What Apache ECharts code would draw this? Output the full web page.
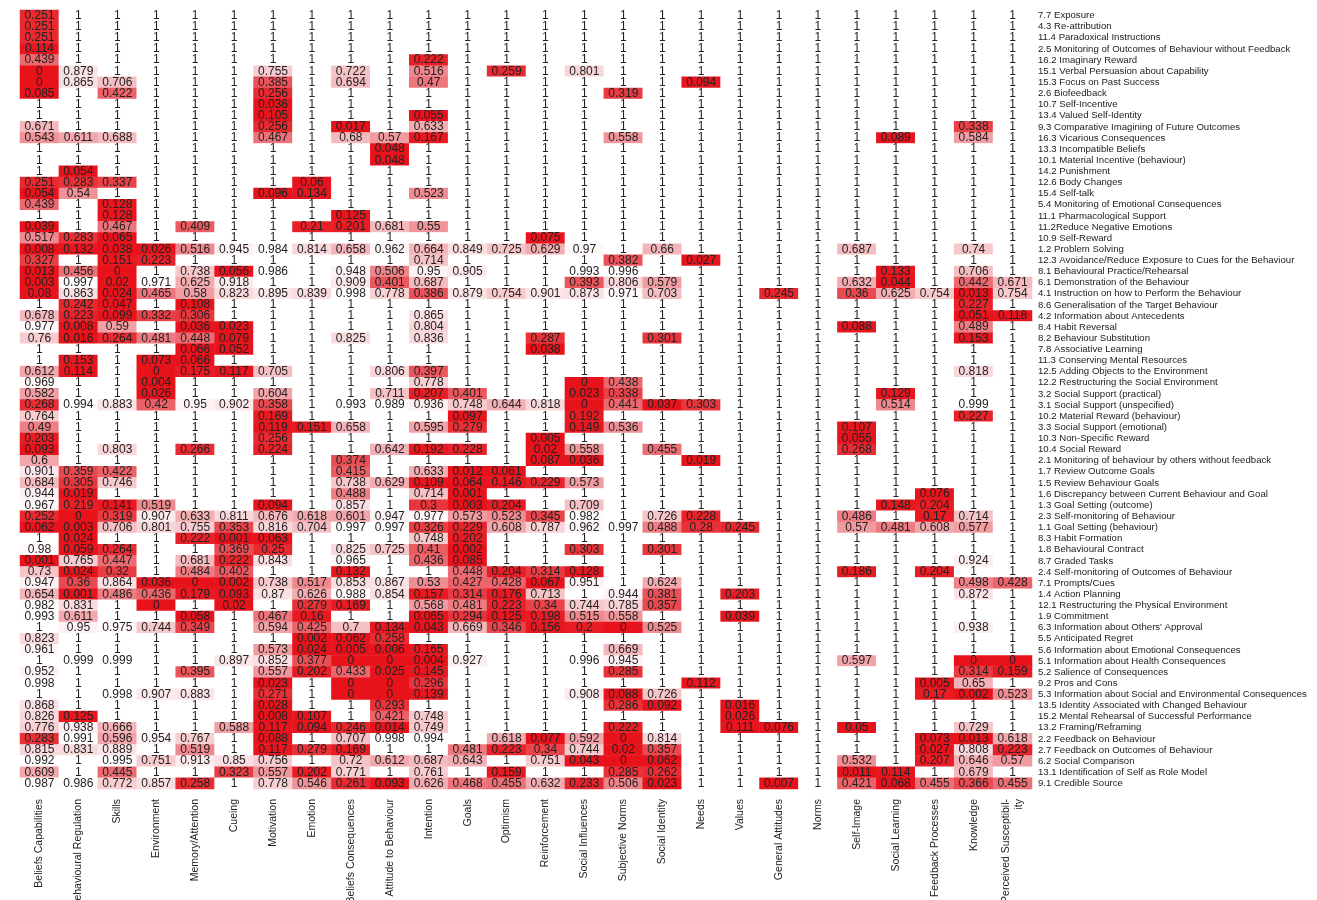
<!DOCTYPE html>
<html>
<head>
<meta charset="utf-8">
<script src="https://cdn.jsdelivr.net/npm/echarts@6/dist/echarts.min.js"></script>
<style>
html,body{margin:0;padding:0;background:#fff;}
#chart{width:1317px;height:900px;}
</style>
</head>
<body>
<div id="chart"></div>
<script>
const columns = ['Beliefs Capabilities','Behavioural Regulation','Skills','Environment','Memory/Attention','Cueing','Motivation','Emotion','Beliefs Consequences','Attitude to Behaviour','Intention','Goals','Optimism','Reinforcement','Social Influences','Subjective Norms','Social Identity','Needs','Values','General Attitudes','Norms','Self-Image','Social Learning','Feedback Processes','Knowledge','Perceived Susceptibil-\nity'];

const techniques = ['7.7 Exposure','4.3 Re-attribution','11.4 Paradoxical Instructions','2.5 Monitoring of Outcomes of Behaviour without Feedback','16.2 Imaginary Reward','15.1 Verbal Persuasion about Capability','15.3 Focus on Past Success','2.6 Biofeedback','10.7 Self-Incentive','13.4 Valued Self-Identity','9.3 Comparative Imagining of Future Outcomes','16.3 Vicarious Consequences','13.3 Incompatible Beliefs','10.1 Material Incentive (behaviour)','14.2 Punishment','12.6 Body Changes','15.4 Self-talk','5.4 Monitoring of Emotional Consequences','11.1 Pharmacological Support','11.2Reduce Negative Emotions','10.9 Self-Reward','1.2 Problem Solving','12.3 Avoidance/Reduce Exposure to Cues for the Behaviour','8.1 Behavioural Practice/Rehearsal','6.1 Demonstration of the Behaviour','4.1 Instruction on how to Perform the Behaviour','8.6 Generalisation of the Target Behaviour','4.2 Information about Antecedents','8.4 Habit Reversal','8.2 Behaviour Substitution','7.8 Associative Learning','11.3 Conserving Mental Resources','12.5 Adding Objects to the Environment','12.2 Restructuring the Social Environment','3.2 Social Support (practical)','3.1 Social Support (unspecified)','10.2 Material Reward (behaviour)','3.3 Social Support (emotional)','10.3 Non-Specific Reward','10.4 Social Reward','2.1 Monitoring of behaviour by others without feedback','1.7 Review Outcome Goals','1.5 Review Behaviour Goals','1.6 Discrepancy between Current Behaviour and Goal','1.3 Goal Setting (outcome)','2.3 Self-monitoring of Behaviour','1.1 Goal Setting (behaviour)','8.3 Habit Formation','1.8 Behavioural Contract','8.7 Graded Tasks','2.4 Self-monitoring of Outcomes of Behaviour','7.1 Prompts/Cues','1.4 Action Planning','12.1 Restructuring the Physical Environment','1.9 Commitment',"6.3 Information about Others' Approval",'5.5 Anticipated Regret','5.6 Information about Emotional Consequences','5.1 Information about Health Consequences','5.2 Salience of Consequences','9.2 Pros and Cons','5.3 Information about Social and Environmental Consequences','13.5 Identity Associated with Changed Behaviour','15.2 Mental Rehearsal of Successful Performance','13.2 Framing/Reframing','2.2 Feedback on Behaviour','2.7 Feedback on Outcomes of Behaviour','6.2 Social Comparison','13.1 Identification of Self as Role Model','9.1 Credible Source'];

// one row per technique, one value per column (26)
const matrix = [
[0.251,1,1,1,1,1, 1,1,1,1,1,1, 1,1,1,1,1,1, 1,1,1,1,1,1, 1,1],
[0.251,1,1,1,1,1, 1,1,1,1,1,1, 1,1,1,1,1,1, 1,1,1,1,1,1, 1,1],
[0.251,1,1,1,1,1, 1,1,1,1,1,1, 1,1,1,1,1,1, 1,1,1,1,1,1, 1,1],
[0.114,1,1,1,1,1, 1,1,1,1,1,1, 1,1,1,1,1,1, 1,1,1,1,1,1, 1,1],
[0.439,1,1,1,1,1, 1,1,1,1,0.222,1, 1,1,1,1,1,1, 1,1,1,1,1,1, 1,1],
[0,0.879,1,1,1,1, 0.755,1,0.722,1,0.516,1, 0.259,1,0.801,1,1,1, 1,1,1,1,1,1, 1,1],
[0,0.865,0.706,1,1,1, 0.385,1,0.694,1,0.47,1, 1,1,1,1,1,0.094, 1,1,1,1,1,1, 1,1],
[0.085,1,0.422,1,1,1, 0.256,1,1,1,1,1, 1,1,1,0.319,1,1, 1,1,1,1,1,1, 1,1],
[1,1,1,1,1,1, 0.036,1,1,1,1,1, 1,1,1,1,1,1, 1,1,1,1,1,1, 1,1],
[1,1,1,1,1,1, 0.105,1,1,1,0.055,1, 1,1,1,1,1,1, 1,1,1,1,1,1, 1,1],
[0.671,1,1,1,1,1, 0.256,1,0.017,1,0.633,1, 1,1,1,1,1,1, 1,1,1,1,1,1, 0.338,1],
[0.543,0.611,0.688,1,1,1, 0.467,1,0.68,0.57,0.167,1, 1,1,1,0.558,1,1, 1,1,1,1,0.089,1, 0.584,1],
[1,1,1,1,1,1, 1,1,1,0.048,1,1, 1,1,1,1,1,1, 1,1,1,1,1,1, 1,1],
[1,1,1,1,1,1, 1,1,1,0.048,1,1, 1,1,1,1,1,1, 1,1,1,1,1,1, 1,1],
[1,0.054,1,1,1,1, 1,1,1,1,1,1, 1,1,1,1,1,1, 1,1,1,1,1,1, 1,1],
[0.251,0.283,0.337,1,1,1, 1,0.06,1,1,1,1, 1,1,1,1,1,1, 1,1,1,1,1,1, 1,1],
[0.054,0.54,1,1,1,1, 0.096,0.134,1,1,0.523,1, 1,1,1,1,1,1, 1,1,1,1,1,1, 1,1],
[0.439,1,0.128,1,1,1, 1,1,1,1,1,1, 1,1,1,1,1,1, 1,1,1,1,1,1, 1,1],
[1,1,0.128,1,1,1, 1,1,0.125,1,1,1, 1,1,1,1,1,1, 1,1,1,1,1,1, 1,1],
[0.039,1,0.467,1,0.409,1, 1,0.21,0.201,0.681,0.55,1, 1,1,1,1,1,1, 1,1,1,1,1,1, 1,1],
[0.517,0.283,0.065,1,1,1, 1,1,1,1,1,1, 1,0.075,1,1,1,1, 1,1,1,1,1,1, 1,1],
[0.008,0.132,0.038,0.026,0.516,0.945, 0.984,0.814,0.658,0.962,0.664,0.849, 0.725,0.629,0.97,1,0.66,1, 1,1,1,0.687,1,1, 0.74,1],
[0.327,1,0.151,0.223,1,1, 1,1,1,1,0.714,1, 1,1,1,0.382,1,0.027, 1,1,1,1,1,1, 1,1],
[0.013,0.456,0,1,0.738,0.056, 0.986,1,0.948,0.506,0.95,0.905, 1,1,0.993,0.996,1,1, 1,1,1,1,0.133,1, 0.706,1],
[0.003,0.997,0.02,0.971,0.625,0.918, 1,1,0.909,0.401,0.687,1, 1,1,0.393,0.806,0.579,1, 1,1,1,0.632,0.044,1, 0.442,0.671],
[0.08,0.863,0.024,0.465,0.58,0.823, 0.895,0.839,0.998,0.778,0.386,0.879, 0.754,0.901,0.873,0.971,0.703,1, 1,0.245,1,0.36,0.625,0.754, 0.013,0.754],
[1,0.242,0.047,1,0.108,1, 1,1,1,1,1,1, 1,1,1,1,1,1, 1,1,1,1,1,1, 0.227,1],
[0.678,0.223,0.099,0.332,0.306,1, 1,1,1,1,0.865,1, 1,1,1,1,1,1, 1,1,1,1,1,1, 0.051,0.118],
[0.977,0.008,0.59,1,0.036,0.023, 1,1,1,1,0.804,1, 1,1,1,1,1,1, 1,1,1,0.088,1,1, 0.489,1],
[0.76,0.016,0.264,0.481,0.448,0.079, 1,1,0.825,1,0.836,1, 1,0.287,1,1,0.301,1, 1,1,1,1,1,1, 0.153,1],
[1,1,1,1,0.066,0.052, 1,1,1,1,1,1, 1,0.038,1,1,1,1, 1,1,1,1,1,1, 1,1],
[1,0.153,1,0.073,0.066,1, 1,1,1,1,1,1, 1,1,1,1,1,1, 1,1,1,1,1,1, 1,1],
[0.612,0.114,1,0,0.175,0.117, 0.705,1,1,0.806,0.397,1, 1,1,1,1,1,1, 1,1,1,1,1,1, 0.818,1],
[0.969,1,1,0.004,1,1, 1,1,1,1,0.778,1, 1,1,0,0.438,1,1, 1,1,1,1,1,1, 1,1],
[0.582,1,1,0.026,1,1, 0.604,1,1,0.711,0.207,0.401, 1,1,0.023,0.338,1,1, 1,1,1,1,0.129,1, 1,1],
[0.268,0.994,0.883,0.42,0.95,0.902, 0.358,1,0.993,0.989,0.936,0.748, 0.644,0.818,0,0.441,0.037,0.303, 1,1,1,1,0.514,1, 0.999,1],
[0.764,1,1,1,1,1, 0.169,1,1,1,1,0.097, 1,1,0.192,1,1,1, 1,1,1,1,1,1, 0.227,1],
[0.49,1,1,1,1,1, 0.119,0.151,0.658,1,0.595,0.279, 1,1,0.149,0.536,1,1, 1,1,1,0.107,1,1, 1,1],
[0.203,1,1,1,1,1, 0.256,1,1,1,1,1, 1,0.005,1,1,1,1, 1,1,1,0.055,1,1, 1,1],
[0.093,1,0.803,1,0.266,1, 0.224,1,1,0.642,0.192,0.228, 1,0.02,0.558,1,0.455,1, 1,1,1,0.268,1,1, 1,1],
[0.6,1,1,1,1,1, 1,1,0.374,1,1,1, 1,0.087,0.036,1,1,0.019, 1,1,1,1,1,1, 1,1],
[0.901,0.359,0.422,1,1,1, 1,1,0.415,1,0.633,0.012, 0.061,1,1,1,1,1, 1,1,1,1,1,1, 1,1],
[0.684,0.305,0.746,1,1,1, 1,1,0.738,0.629,0.109,0.064, 0.146,0.229,0.573,1,1,1, 1,1,1,1,1,1, 1,1],
[0.944,0.019,1,1,1,1, 1,1,0.488,1,0.714,0.001, 1,1,1,1,1,1, 1,1,1,1,1,0.076, 1,1],
[0.967,0.219,0.141,0.519,1,1, 0.094,1,0.857,1,0.3,0.003, 0.204,1,0.709,1,1,1, 1,1,1,1,0.148,0.204, 1,1],
[0.252,0,0.319,0.907,0.633,0.811, 0.676,0.618,0.601,0.947,0.977,0.573, 0.523,0.345,0.982,1,0.726,0.228, 1,1,1,0.486,1,0.17, 0.714,1],
[0.062,0.003,0.706,0.801,0.755,0.353, 0.816,0.704,0.997,0.997,0.326,0.229, 0.608,0.787,0.962,0.997,0.488,0.28, 0.245,1,1,0.57,0.481,0.608, 0.577,1],
[1,0.024,1,1,0.222,0.001, 0.063,1,1,1,0.748,0.202, 1,1,1,1,1,1, 1,1,1,1,1,1, 1,1],
[0.98,0.059,0.264,1,1,0.369, 0.25,1,0.825,0.725,0.41,0.002, 1,1,0.303,1,0.301,1, 1,1,1,1,1,1, 1,1],
[0.001,0.765,0.447,1,0.681,0.222, 0.843,1,0.965,1,0.436,0.085, 1,1,1,1,1,1, 1,1,1,1,1,1, 0.924,1],
[0.73,0.024,0.32,1,0.484,0.402, 1,1,0.132,1,1,0.448, 0.204,0.314,0.128,1,1,1, 1,1,1,0.186,1,0.204, 1,1],
[0.947,0.36,0.864,0.036,0,0.002, 0.738,0.517,0.853,0.867,0.53,0.427, 0.428,0.067,0.951,1,0.624,1, 1,1,1,1,1,1, 0.498,0.428],
[0.654,0.001,0.486,0.436,0.179,0.093, 0.87,0.626,0.988,0.854,0.157,0.314, 0.176,0.713,1,0.944,0.381,1, 0.203,1,1,1,1,1, 0.872,1],
[0.982,0.831,1,0,1,0.02, 1,0.279,0.169,1,0.568,0.481, 0.223,0.34,0.744,0.785,0.357,1, 1,1,1,1,1,1, 1,1],
[0.993,0.611,1,1,0.058,1, 0.467,0.16,1,1,0.065,0.294, 0.125,0.198,0.515,0.558,1,1, 0.039,1,1,1,1,1, 1,1],
[1,0.95,0.975,0.744,0.349,1, 0.594,0.425,0.7,0.134,0.043,0.669, 0.346,0.156,0.2,0,0.525,1, 1,1,1,1,1,1, 0.938,1],
[0.823,1,1,1,1,1, 1,0.002,0.062,0.258,1,1, 1,1,1,1,1,1, 1,1,1,1,1,1, 1,1],
[0.961,1,1,1,1,1, 0.573,0.024,0.005,0.006,0.165,1, 1,1,1,0.669,1,1, 1,1,1,1,1,1, 1,1],
[1,0.999,0.999,1,1,0.897, 0.852,0.377,0,0,0.004,0.927, 1,1,0.996,0.945,1,1, 1,1,1,0.597,1,1, 0,0],
[0.952,1,1,1,0.395,1, 0.557,0.202,0.433,0.025,0.145,1, 1,1,1,0.285,1,1, 1,1,1,1,1,1, 0.314,0.159],
[0.998,1,1,1,1,1, 0.023,1,0,0,0.296,1, 1,1,1,1,1,0.112, 1,1,1,1,1,0.005, 0.65,1],
[1,1,0.998,0.907,0.883,1, 0.271,1,0,0,0.139,1, 1,1,0.908,0.088,0.726,1, 1,1,1,1,1,0.17, 0.002,0.523],
[0.868,1,1,1,1,1, 0.028,1,1,0.293,1,1, 1,1,1,0.286,0.092,1, 0.016,1,1,1,1,1, 1,1],
[0.826,0.125,1,1,1,1, 0.008,0.107,1,0.421,0.748,1, 1,1,1,1,1,1, 0.026,1,1,1,1,1, 1,1],
[0.776,0.938,0.666,1,1,0.588, 0.117,0.094,0.246,0.014,0.749,1, 1,1,1,0.222,1,1, 0.111,0.076,1,0.05,1,1, 0.729,1],
[0.283,0.991,0.596,0.954,0.767,1, 0.088,1,0.707,0.998,0.994,1, 0.618,0.077,0.592,0,0.814,1, 1,1,1,1,1,0.073, 0.013,0.618],
[0.815,0.831,0.889,1,0.519,1, 0.117,0.279,0.169,1,1,0.481, 0.223,0.34,0.744,0.02,0.357,1, 1,1,1,1,1,0.027, 0.808,0.223],
[0.992,1,0.995,0.751,0.913,0.85, 0.756,1,0.72,0.612,0.687,0.643, 1,0.751,0.043,0,0.062,1, 1,1,1,0.532,1,0.207, 0.646,0.57],
[0.609,1,0.445,1,1,0.323, 0.557,0.202,0.771,1,0.761,1, 0.159,1,1,0.285,0.262,1, 1,1,1,0.011,0.114,1, 0.679,1],
[0.987,0.986,0.772,0.857,0.258,1, 0.778,0.546,0.261,0.093,0.626,0.468, 0.455,0.632,0.233,0.506,0.023,1, 1,0.007,1,0.421,0.068,0.455, 0.366,0.455]
];

const colorStops = ['#e8121b','#e8141d','#e81c24','#e9353c','#eb575e','#ee8389','#f2a5aa','#f5bfc3','#f8d5d8','#fbe7e9','#ffffff'];

const cells = [];
matrix.forEach((row, r) => row.forEach((v, c) => cells.push([c, r, v])));

const chart = echarts.init(document.getElementById('chart'), null, {renderer: 'canvas'});
const FONT = '"Liberation Sans", Arial, sans-serif';
chart.setOption({
  animation: false,
  backgroundColor: '#ffffff',
  grid: {left: 20, right: 285, top: 10, bottom: 111, containLabel: false, outerBoundsMode: 'none'},
  xAxis: {
    type: 'category', data: columns, position: 'bottom',
    axisLine: {show: false}, axisTick: {show: false}, splitLine: {show: false},
    axisLabel: {rotate: 90, interval: 0, margin: 10, fontSize: 10.5, color: '#222', fontFamily: FONT, lineHeight: 13}
  },
  yAxis: {
    type: 'category', data: techniques, inverse: true, position: 'right',
    axisLine: {show: false}, axisTick: {show: false}, splitLine: {show: false},
    axisLabel: {interval: 0, margin: 6, fontSize: 9.6, color: '#222', fontFamily: FONT}
  },
  visualMap: {
    show: false, type: 'continuous', min: 0, max: 1, dimension: 2,
    inRange: {color: colorStops}
  },
  series: [{
    type: 'heatmap',
    data: cells,
    label: {
      show: true, fontSize: 12, color: '#222', fontFamily: FONT,
      formatter: p => String(p.value[2])
    },
    itemStyle: {borderWidth: 0},
    emphasis: {disabled: true}
  }]
});
</script>
</body>
</html>
